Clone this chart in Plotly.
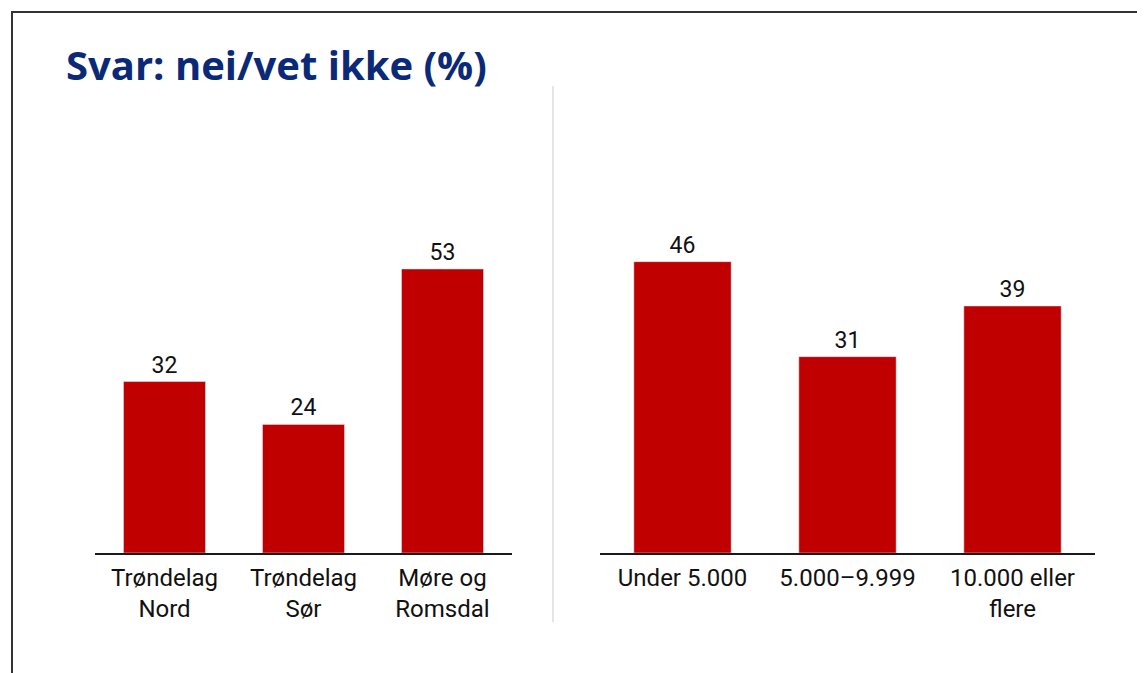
import plotly.graph_objects as go

W, H = 1145, 673
OFF = 8  # page body margin

title_text = "Svar: nei/vet ikke (%)"
region_labels = ["Trøndelag<br>Nord", "Trøndelag<br>Sør", "Møre og<br>Romsdal"]
region_values = [32, 24, 53]
size_labels = ["Under 5.000", "5.000–9.999", "10.000 eller<br>flere"]
size_values = [46, 31, 39]

BAR = "#C00000"
FONT = "Roboto"

def px(x):
    return (x - OFF) / W

def py(y):
    return 1 - (y - OFF) / H

fig = go.Figure()
fig.add_trace(go.Bar(x=region_labels, y=region_values, marker_color=BAR,
                     text=region_values, textposition="outside", cliponaxis=False,
                     textfont=dict(size=23, color="#111", family=FONT),
                     xaxis="x", yaxis="y"))
fig.add_trace(go.Bar(x=size_labels, y=size_values, marker_color=BAR,
                     text=size_values, textposition="outside", cliponaxis=False,
                     textfont=dict(size=23, color="#111", family=FONT),
                     xaxis="x2", yaxis="y2"))

ydom = [py(553), py(90)]
axis_common = dict(showgrid=False, zeroline=False, showline=True, linecolor="#1a1a1a", linewidth=2,
                   ticks="outside", ticklen=2, tickcolor="rgba(0,0,0,0)",
                   tickfont=dict(size=24, color="#111", family=FONT), fixedrange=True)
fig.update_layout(
    width=W, height=H,
    margin=dict(l=0, r=0, t=0, b=0),
    paper_bgcolor="white", plot_bgcolor="white",
    showlegend=False,
    bargap=0.41,
    xaxis=dict(domain=[px(95), px(512)], anchor="y", **axis_common),
    yaxis=dict(domain=ydom, range=[0, 86.4], visible=False, anchor="x"),
    xaxis2=dict(domain=[px(600), px(1095)], anchor="y2", **axis_common),
    yaxis2=dict(domain=ydom, range=[0, 73.1], visible=False, anchor="x2"),
    shapes=[
        dict(type="line", xref="paper", yref="paper", x0=px(12), x1=px(12), y0=0, y1=py(12),
             line=dict(color="#333", width=2)),
        dict(type="line", xref="paper", yref="paper", x0=px(11), x1=1, y0=py(12), y1=py(12),
             line=dict(color="#333", width=2)),
        dict(type="line", xref="paper", yref="paper", x0=px(553), x1=px(553), y0=py(622), y1=py(86),
             line=dict(color="#DDDDDD", width=1.5)),
    ],
    annotations=[
        dict(text="<b>" + title_text + "</b>", xref="paper", yref="paper",
             x=px(64), y=py(64), xanchor="left", yanchor="middle", showarrow=False,
             font=dict(size=40, color="#0A2A78", family="Open Sans")),
    ],
)

fig.write_html("out.html")
